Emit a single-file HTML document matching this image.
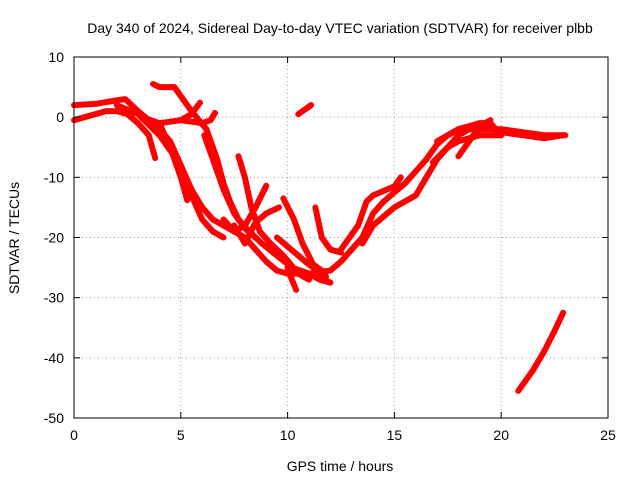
<!DOCTYPE html>
<html><head><meta charset="utf-8"><style>
body{margin:0;background:#fff}
svg{display:block;font-family:"Liberation Sans",sans-serif}
</style></head><body>
<svg id="c" width="640" height="480" viewBox="0 0 640 480">
<text x="340" y="33" font-size="14" text-anchor="middle">Day 340 of 2024, Sidereal Day-to-day VTEC variation (SDTVAR) for receiver plbb</text>
<text x="340" y="471" font-size="14" text-anchor="middle">GPS time / hours</text>
<text transform="translate(19,238) rotate(-90)" font-size="14" text-anchor="middle">SDTVAR / TECUs</text>
<g id="grid"></g>
<g id="series"></g>
<rect x="74" y="57" width="534" height="361" fill="none" stroke="#000" stroke-width="1"/>
<g id="ticks"></g>
</svg>
<script>
const xTicks=[0,5,10,15,20,25];
const yTicks=[-50,-40,-30,-20,-10,0,10];
const trackA=[[0,2],[1,2.2],[2,2.8],[2.4,3],[3,1],[3.5,-0.5],[4,-2],[4.5,-4],[5,-8],[5.5,-12],[6,-15],[6.5,-17],[7,-18],[7.5,-19],[8,-20],[8.5,-22],[9,-24],[9.5,-25.5],[10,-26],[11,-26],[11.5,-27],[12,-27.5]];
const trackB=[[0,-0.5],[1,0.5],[1.5,1],[2,1],[2.5,0.5],[3,-1],[3.5,-3],[3.8,-6.8]];
const trackC=[[2,2],[3,0.5],[4,-3],[5,-8],[5.5,-13],[6,-17],[6.5,-19],[7,-20]];
const trackD=[[3.7,5.5],[4,5],[4.7,5],[5.5,1],[6.2,-2],[6.7,-7],[7,-11],[7.3,-14],[7.7,-17],[8.2,-19],[8.8,-21],[9.5,-23],[10.2,-25],[11,-26],[12,-27.5]];
const trackE=[[3.2,0],[4,-1],[4.5,-5],[5,-10],[5.3,-13.8]];
const trackF=[[4,-1],[5,-0.5],[6,-1],[6.4,-0.5],[6.6,0.7]];
const trackG=[[5,-0.5],[5.5,0.5],[5.9,2.4]];
const trackH=[[6.1,-3],[6.5,-7],[7,-12],[7.5,-16],[8,-18.5],[8.5,-20]];
const trackI=[[7.7,-6.5],[8,-10],[8.3,-15],[8.7,-19],[9.2,-21],[9.8,-23],[10.5,-26],[11,-27]];
const trackJ=[[7,-17],[7.5,-19],[8,-18],[8.5,-15],[9,-11.4]];
const trackK=[[7.5,-18],[8,-21],[8.5,-17.5],[9,-16],[9.6,-15]];
const trackL=[[9.8,-13.5],[10.3,-17],[10.7,-21],[11.2,-24.5],[11.6,-25.5]];
const trackM=[[9.5,-20],[10,-21.5],[10.5,-23],[11,-24.5],[11.8,-26.5]];
const trackN=[[10,-25],[10.2,-27],[10.4,-28.7]];
const trackO=[[11.3,-15],[11.6,-20],[12,-22],[12.5,-22.5]];
const trackP=[[10.5,0.5],[11.1,2]];
const trackQ=[[11,-26],[12,-25.5],[12.5,-24],[13,-22],[13.5,-20],[14,-16],[14.5,-14],[15,-12.5],[15.5,-11],[16,-9],[16.5,-7],[17,-4.5],[17.5,-3],[18,-2],[19,-1],[20,-2.5],[21,-3],[22,-3.5],[22.9,-3]];
const trackR=[[12.5,-22],[13.3,-18],[13.7,-14],[14,-13],[15,-11.5],[15.3,-10]];
const trackS=[[13.5,-21],[14,-18],[15,-15],[16,-13],[16.5,-10],[17,-7],[17.5,-5],[18,-4],[19,-3],[20,-3]];
const trackT=[[16.8,-7.5],[17.5,-5],[18,-3],[19,-1],[19.5,-1],[20,-3]];
const trackU=[[18,-6.5],[18.5,-4],[19,-1.5],[19.5,-0.5]];
const trackV=[[17,-4],[18,-2],[19,-2],[20,-2],[21,-2.5],[22,-3],[23,-3]];
const trackW=[[20.8,-45.5],[21.5,-42],[22,-39],[22.5,-35.5],[22.9,-32.5]];
const tracks=[trackA,trackB,trackC,trackD,trackE,trackF,trackG,trackH,trackI,trackJ,trackK,trackL,trackM,trackN,trackO,trackP,trackQ,trackR,trackS,trackT,trackU,trackV,trackW];
const X0=74,X1=608,Y0=418,Y1=57,xmin=0,xmax=25,ymin=-50,ymax=10;
const sx=v=>X0+(v-xmin)/(xmax-xmin)*(X1-X0);
const sy=v=>Y0-(v-ymin)/(ymax-ymin)*(Y0-Y1);
const NS='http://www.w3.org/2000/svg';
const grid=document.getElementById('grid'),ticks=document.getElementById('ticks'),ser=document.getElementById('series');
function mk(tag,attrs,parent){const e=document.createElementNS(NS,tag);for(const k in attrs)e.setAttribute(k,attrs[k]);parent.appendChild(e);return e;}
xTicks.forEach(t=>{const x=sx(t);
 if(t>xmin&&t<xmax){const g=mk('line',{x1:x,x2:x,y1:Y1,y2:Y0,stroke:'#a0a0a0','stroke-dasharray':'1,3'},grid);}
 mk('line',{x1:x,x2:x,y1:Y0,y2:Y0-6,stroke:'#000'},ticks);mk('line',{x1:x,x2:x,y1:Y1,y2:Y1+6,stroke:'#000'},ticks);
 const l=mk('text',{x:x,y:Y0+22,'font-size':14,'text-anchor':'middle'},ticks);l.textContent=t;
 });
yTicks.forEach(t=>{const y=sy(t);
 if(t>ymin&&t<ymax){const g=mk('line',{x1:X0,x2:X1,y1:y,y2:y,stroke:'#a0a0a0','stroke-dasharray':'1,3'},grid);}
 mk('line',{x1:X0,x2:X0+6,y1:y,y2:y,stroke:'#000'},ticks);mk('line',{x1:X1,x2:X1-6,y1:y,y2:y,stroke:'#000'},ticks);
 const l=mk('text',{x:X0-10,y:y+5,'font-size':14,'text-anchor':'end'},ticks);l.textContent=t;
 });
tracks.forEach(tr=>{const p=mk('polyline',{points:tr.map(d=>sx(d[0])+','+sy(d[1])).join(' '),fill:'none',stroke:'#ff0000','stroke-width':6,'stroke-linejoin':'round','stroke-linecap':'round'},ser);
 
 });
</script>
</body></html>
